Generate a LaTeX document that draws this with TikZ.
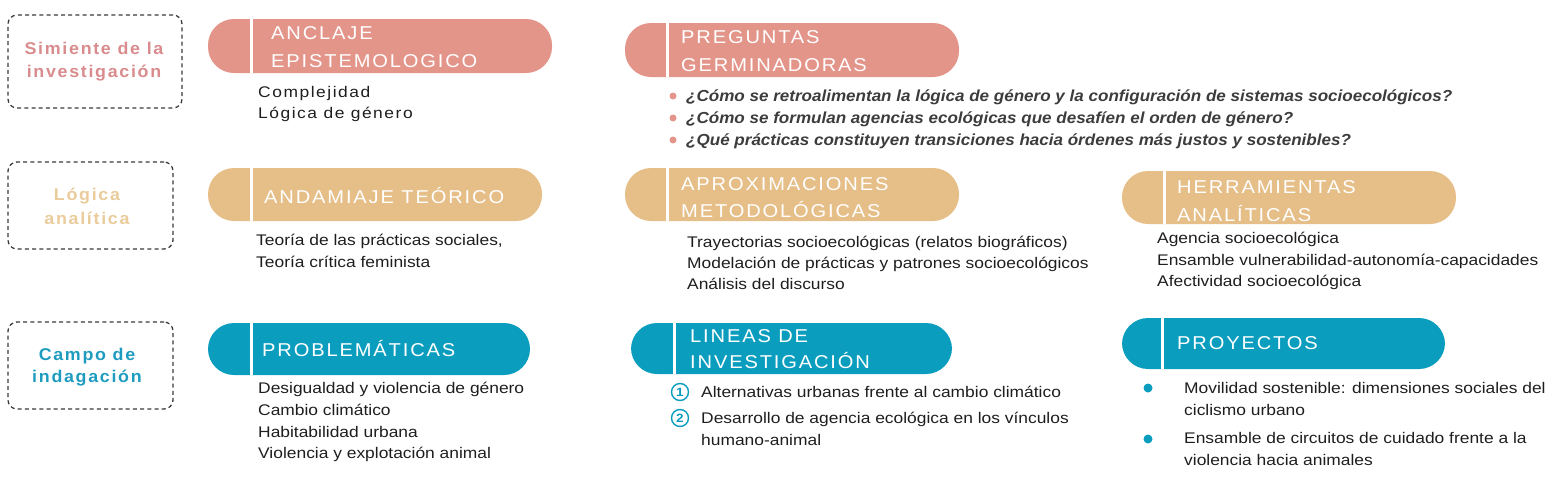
\documentclass[tikz,border=0pt]{standalone}
\usepackage{fontspec}
\setmainfont{Liberation Sans}
\newfontfamily\bodyfont[FakeStretch=1.13]{Liberation Sans}
\newfontfamily\spacedfont[FakeStretch=1.13,LetterSpace=10]{Liberation Sans}
\newfontfamily\titlefont[FakeStretch=1.08,LetterSpace=10]{Liberation Sans}
\newfontfamily\labelfont[FakeStretch=1.05,LetterSpace=10]{Liberation Sans}
\newfontfamily\qfont[FakeStretch=1.065]{Liberation Sans}
\definecolor{salmon}{HTML}{E4958A}
\definecolor{salmontxt}{HTML}{D98B8D}
\definecolor{tanpill}{HTML}{E6BE87}
\definecolor{tantxt}{HTML}{EACB9B}
\definecolor{cteal}{HTML}{0A9DBE}
\definecolor{tealtxt}{HTML}{1E9CC0}
\definecolor{ink}{HTML}{1E1E1E}
\definecolor{qink}{HTML}{3C3C3C}
\definecolor{dashc}{HTML}{3A3A3A}
\tikzset{
  dbox/.style={draw=dashc, line width=1.3pt, dash pattern=on 4pt off 3.2pt, rounded corners=9pt, inner sep=0, fill=none},
  pill/.style={rounded corners=26pt, inner sep=0, draw=none},
  divider/.style={draw=white, line width=3pt},
  ttl/.style={anchor=base west, inner sep=0, text=white, font=\titlefont\fontsize{18.6}{22}\selectfont},
  body/.style={anchor=base west, inner sep=0, text=ink, font=\bodyfont\fontsize{15.4}{18}\selectfont},
  sbody/.style={anchor=base west, inner sep=0, text=ink, font=\spacedfont\fontsize{15.4}{18}\selectfont},
  qtext/.style={anchor=base west, inner sep=0, text=qink, font=\qfont\bfseries\itshape\fontsize{16}{18}\selectfont},
  lbl/.style={anchor=base, inner sep=0, font=\labelfont\bfseries\fontsize{17}{20}\selectfont},
  dot/.style={circle, inner sep=0, minimum size=#1, draw=none},
  cnum/.style={circle, draw=cteal, line width=1.4pt, minimum size=17pt, inner sep=0, text=cteal, font=\bodyfont\bfseries\fontsize{12}{12}\selectfont},
}
\begin{document}
\begin{tikzpicture}[x=1pt,y=-1pt]
\useasboundingbox (0,0) rectangle (1556,477);

% ---------- left dashed boxes ----------
\node[dbox, minimum width=174pt, minimum height=93pt] (b1) at (95,61.5) {};
\node[dbox, minimum width=165pt, minimum height=87pt] (b2) at (90.5,205.5) {};
\node[dbox, minimum width=165pt, minimum height=87pt] (b3) at (90.5,365.5) {};
\node[lbl, text=salmontxt] (l1a) at (94,54) {Simiente de la};
\node[lbl, text=salmontxt] (l1b) at (94,77) {investigación};
\node[lbl, text=tantxt] (l2a) at (87,200) {Lógica};
\node[lbl, text=tantxt] (l2b) at (87,224) {analítica};
\node[lbl, text=tealtxt] (l3a) at (87,360) {Campo de};
\node[lbl, text=tealtxt] (l3b) at (87,382) {indagación};

% ---------- pills ----------
\node[pill, fill=salmon, minimum width=344pt, minimum height=54pt] (p1) at (380,46) {};
\node[pill, fill=salmon, minimum width=334pt, minimum height=54pt] (p2) at (792,50) {};
\node[pill, fill=tanpill, minimum width=334pt, minimum height=53pt] (p3) at (375,194.5) {};
\node[pill, fill=tanpill, minimum width=334pt, minimum height=53pt] (p4) at (792,194.5) {};
\node[pill, fill=tanpill, minimum width=334pt, minimum height=53pt] (p5) at (1289,197.5) {};
\node[pill, fill=cteal, minimum width=322pt, minimum height=52pt] (p6) at (369,349) {};
\node[pill, fill=cteal, minimum width=321pt, minimum height=51pt] (p7) at (791.5,348.5) {};
\node[pill, fill=cteal, minimum width=323pt, minimum height=51pt] (p8) at (1283.5,343.5) {};
\foreach \p/\d in {p1/44,p2/43,p3/44,p4/43,p5/43,p6/44,p7/44,p8/41}{
  \draw[divider] ([xshift=\d pt]\p.north west) -- ([xshift=\d pt]\p.south west);
}

% ---------- titles ----------
\node[ttl] (t1a) at (271,39) {ANCLAJE};
\node[ttl] (t1b) at (271,67) {EPISTEMOLOGICO};
\node[ttl] (t2a) at (681,43) {PREGUNTAS};
\node[ttl] (t2b) at (681,71) {GERMINADORAS};
\node[ttl] (t3) at (264,203) {ANDAMIAJE TEÓRICO};
\node[ttl] (t4a) at (681,190) {APROXIMACIONES};
\node[ttl] (t4b) at (681,217) {METODOLÓGICAS};
\node[ttl] (t5a) at (1177,193) {HERRAMIENTAS};
\node[ttl] (t5b) at (1177,221) {ANALÍTICAS};
\node[ttl] (t6) at (262,356) {PROBLEMÁTICAS};
\node[ttl] (t7a) at (690,342) {LINEAS DE};
\node[ttl] (t7b) at (690,368) {INVESTIGACIÓN};
\node[ttl] (t8) at (1177,349) {PROYECTOS};

% ---------- row 1 contents ----------
\node[sbody] (c1a) at (258,97) {Complejidad};
\node[sbody] (c1b) at (258,118) {Lógica de género};
\foreach \y/\n in {96/1,118/2,140/3}{
  \node[dot=7pt, fill=salmon] (qd\n) at (673,\y) {};
}
\node[qtext] (q1) at (686,101) {¿Cómo se retroalimentan la lógica de género y la configuración de sistemas socioecológicos?};
\node[qtext] (q2) at (686,123) {¿Cómo se formulan agencias ecológicas que desafíen el orden de género?};
\node[qtext] (q3) at (686,145) {¿Qué prácticas constituyen transiciones hacia órdenes más justos y sostenibles?};

% ---------- row 2 contents ----------
\node[body] (c3a) at (256,245) {Teoría de las prácticas sociales,};
\node[body] (c3b) at (256,267) {Teoría crítica feminista};
\node[body] (c4a) at (687,247) {Trayectorias socioecológicas (relatos biográficos)};
\node[body] (c4b) at (687,268) {Modelación de prácticas y patrones socioecológicos};
\node[body] (c4c) at (687,289) {Análisis del discurso};
\node[body] (c5a) at (1157,243) {Agencia socioecológica};
\node[body] (c5b) at (1157,265) {Ensamble vulnerabilidad-autonomía-capacidades};
\node[body] (c5c) at (1157,286) {Afectividad socioecológica};

% ---------- row 3 contents ----------
\node[body] (c6a) at (258,393) {Desigualdad y violencia de género};
\node[body] (c6b) at (258,415) {Cambio climático};
\node[body] (c6c) at (258,437) {Habitabilidad urbana};
\node[body] (c6d) at (258,458) {Violencia y explotación animal};
\node[cnum] (n1) at (680,392) {1};
\node[cnum] (n2) at (680,418) {2};
\node[body] (c7a) at (701,397) {Alternativas urbanas frente al cambio climático};
\node[body] (c7b) at (701,423) {Desarrollo de agencia ecológica en los vínculos};
\node[body] (c7c) at (701,445) {humano-animal};
\node[dot=9pt, fill=cteal] (pd1) at (1148,388) {};
\node[dot=9pt, fill=cteal] (pd2) at (1148,439) {};
\node[body] (c8a) at (1184,393) {Movilidad sostenible: dimensiones sociales del};
\node[body] (c8b) at (1184,415) {ciclismo urbano};
\node[body] (c8c) at (1184,443) {Ensamble de circuitos de cuidado frente a la};
\node[body] (c8d) at (1184,465) {violencia hacia animales};
\end{tikzpicture}
\end{document}
